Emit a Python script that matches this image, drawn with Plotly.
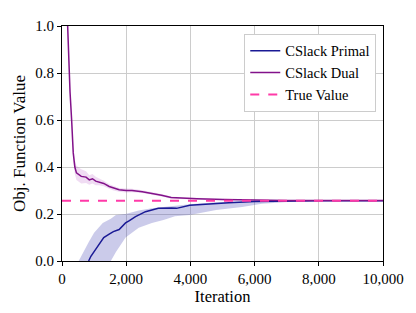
import plotly.graph_objects as go

# Dual (mean) curve
dual_x = [150, 200, 250, 300, 350, 400, 450, 600, 750, 850, 950, 1050, 1160, 1300, 1470, 1600, 1780,
          2000, 2180, 2500, 2800, 3100, 3400, 3800, 4200, 5000, 6000, 7000, 8000, 9000, 10000]
dual_y = [1.1, 0.88, 0.72, 0.6, 0.46, 0.40, 0.375, 0.36, 0.357, 0.345, 0.35, 0.34, 0.337, 0.33, 0.317, 0.31, 0.303,
          0.300, 0.300, 0.295, 0.288, 0.280, 0.270, 0.266, 0.265, 0.262, 0.259, 0.257, 0.257, 0.257, 0.257]
dual_hw = [0.02, 0.02, 0.02, 0.02, 0.025, 0.03, 0.03, 0.03, 0.025, 0.02, 0.02, 0.018, 0.015, 0.012, 0.01, 0.01, 0.008,
           0.008, 0.007, 0.006, 0.006, 0.005, 0.005, 0.004, 0.004, 0.003, 0.002, 0.002, 0.001, 0.001, 0.001]

# Primal (mean) curve
primal_x = [830, 900, 1000, 1165, 1300, 1470, 1600, 1780, 1980, 2100, 2290, 2600, 3000, 3410, 3570,
            3980, 4500, 5200, 6000, 7000, 8000, 10000]
primal_y = [0.0, 0.02, 0.04, 0.073, 0.10, 0.114, 0.125, 0.134, 0.162, 0.172, 0.189, 0.21, 0.224, 0.226, 0.224,
            0.237, 0.242, 0.248, 0.253, 0.256, 0.256, 0.256]

# Primal band
band_x = [520, 700, 830, 1000, 1270, 1520, 1680, 1980, 2390, 2800, 3160, 3520, 3980, 4800, 5610, 6230,
          7040, 8000, 10000]
band_hi = [0.0, 0.05, 0.08, 0.12, 0.162, 0.18, 0.196, 0.20, 0.215, 0.224, 0.23, 0.234, 0.242, 0.25, 0.254,
           0.256, 0.257, 0.257, 0.257]
band_lo = [-0.1, -0.1, -0.1, -0.08, -0.04, 0.0, 0.038, 0.10, 0.141, 0.162, 0.175, 0.19, 0.196, 0.217, 0.23,
           0.244, 0.251, 0.255, 0.256]

true_value = 0.256
x_range = [0, 10000]

FONT = "Liberation Serif, Times New Roman, serif"
PRIMAL = "#1a1a95"
DUAL = "#82128a"
TRUE = "#ff3aa8"

fig = go.Figure()

# Primal band
fig.add_trace(go.Scatter(x=band_x + band_x[::-1], y=band_hi + band_lo[::-1], fill="toself",
                         fillcolor="rgba(70,70,180,0.28)", line=dict(width=0), showlegend=False,
                         hoverinfo="skip"))
# Dual band
d_hi = [y + h for y, h in zip(dual_y, dual_hw)]
d_lo = [y - h for y, h in zip(dual_y, dual_hw)]
fig.add_trace(go.Scatter(x=dual_x + dual_x[::-1], y=d_hi + d_lo[::-1], fill="toself",
                         fillcolor="rgba(170,60,190,0.18)", line=dict(width=0), showlegend=False,
                         hoverinfo="skip"))

fig.add_trace(go.Scatter(x=primal_x, y=primal_y, mode="lines", name="CSlack Primal",
                         line=dict(color=PRIMAL, width=1.5)))
fig.add_trace(go.Scatter(x=dual_x, y=dual_y, mode="lines", name="CSlack Dual",
                         line=dict(color=DUAL, width=1.5)))
fig.add_trace(go.Scatter(x=x_range, y=[true_value, true_value], mode="lines", name="True Value",
                         line=dict(color=TRUE, width=2, dash="dash")))

fig.update_layout(
    width=416, height=313,
    margin=dict(l=49, r=41, t=10, b=60),
    paper_bgcolor="white", plot_bgcolor="white",
    font=dict(family=FONT, size=15, color="black"),
    legend=dict(x=0.979, y=0.967, xanchor="right", yanchor="top",
                bgcolor="white", bordercolor="#cccccc", borderwidth=1,
                font=dict(family=FONT, size=14.5), tracegroupgap=0, itemwidth=30),
    showlegend=True,
)
fig.update_xaxes(range=x_range, tickvals=[0, 2000, 4000, 6000, 8000, 10000], tickformat=",d",
                 showgrid=True, gridcolor="#cccccc", gridwidth=1,
                 showline=True, linecolor="black", linewidth=1, mirror=True,
                 ticks="outside", ticklen=4, tickcolor="black", zeroline=False,
                 title=dict(text="Iteration", font=dict(size=16.5), standoff=2),
                 tickfont=dict(size=15))
fig.update_yaxes(range=[0, 1.0], tickvals=[0, 0.2, 0.4, 0.6, 0.8, 1.0], tickformat=".1f",
                 showgrid=True, gridcolor="#cccccc", gridwidth=1,
                 showline=True, linecolor="black", linewidth=1, mirror=True,
                 ticks="outside", ticklen=4, tickcolor="black", zeroline=False,
                 title=dict(text="Obj. Function Value", font=dict(size=17), standoff=5),
                 tickfont=dict(size=15))

fig.write_html("out.html")
